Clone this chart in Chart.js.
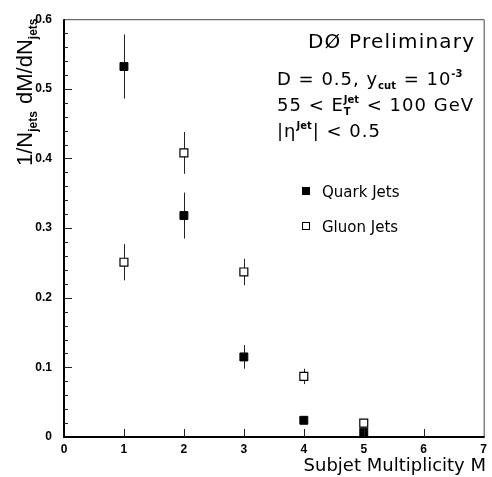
<!DOCTYPE html>
<html>
<head>
<meta charset="utf-8">
<script src="https://cdn.jsdelivr.net/npm/chart.js@4.4.1/dist/chart.umd.min.js"></script>
<style>
  html, body { margin: 0; padding: 0; background: #fff; }
</style>
</head>
<body>
<canvas id="myChart" width="492" height="477"></canvas>
<script>
var multiplicity = [1, 2, 3, 4, 5];
var quarkValues = [0.532, 0.318, 0.115, 0.024, 0.007];
var quarkErrors = [0.046, 0.033, 0.017, 0.005, 0.002];
var gluonValues = [0.251, 0.408, 0.237, 0.087, 0.020];
var gluonErrors = [0.026, 0.030, 0.019, 0.011, 0.003];
var seriesLabels = ["Quark Jets", "Gluon Jets"];

var fam = "'DejaVu Sans', sans-serif";

function points(vals) {
  return multiplicity.map(function (m, i) {
    return { x: m, y: vals[i] };
  });
}

// draws text pieces with sub/superscripts, returns end x
function drawRich(ctx, x, y, parts, size, family, spacing) {
  var held = 0;
  family = family || fam;
  parts.forEach(function (p) {
    var small = p.sub || p.sup;
    var s = small ? Math.round(size * 0.55) : size;
    ctx.letterSpacing = small ? "0px" : (spacing || 0) + "px";
    ctx.font = (small ? "bold " : "") + s + "px " + family;
    var dy = p.sub ? size * 0.22 : p.sup ? -size * 0.42 : 0;
    ctx.fillText(p.t, x, y + dy);
    var w = ctx.measureText(p.t).width;
    if (p.stack) {
      held = w;
    } else {
      x += Math.max(w, held) + (small ? 1 : 0);
      held = 0;
    }
  });
  ctx.letterSpacing = "0px";
  return x;
}

var errorBars = {
  id: "errorBars",
  beforeDatasetsDraw: function (chart) {
    var ctx = chart.ctx;
    var xs = chart.scales.x;
    var ys = chart.scales.y;
    ctx.save();
    ctx.strokeStyle = "#222";
    ctx.lineWidth = 1;
    chart.data.datasets.forEach(function (ds) {
      ds.data.forEach(function (p, i) {
        var px = Math.round(xs.getPixelForValue(p.x)) + 0.5;
        ctx.beginPath();
        ctx.moveTo(px, ys.getPixelForValue(p.y + ds.errors[i]));
        ctx.lineTo(px, ys.getPixelForValue(p.y - ds.errors[i]));
        ctx.stroke();
      });
    });
    ctx.restore();
  }
};

var frame = {
  id: "frame",
  afterDraw: function (chart) {
    var ctx = chart.ctx;
    var a = chart.chartArea;
    var xs = chart.scales.x;
    var ys = chart.scales.y;
    ctx.save();
    // thin top and right
    ctx.strokeStyle = "#444";
    ctx.lineWidth = 1;
    ctx.beginPath();
    ctx.moveTo(a.left, a.top + 0.5);
    ctx.lineTo(a.right + 0.5, a.top + 0.5);
    ctx.lineTo(a.right + 0.5, a.bottom);
    ctx.stroke();
    // heavy left and bottom
    ctx.strokeStyle = "#000";
    ctx.lineWidth = 2;
    ctx.beginPath();
    ctx.moveTo(a.left, a.top);
    ctx.lineTo(a.left, a.bottom);
    ctx.lineTo(a.right + 1, a.bottom);
    ctx.stroke();
    // y ticks, minor every 0.02
    ctx.lineWidth = 1;
    ctx.strokeStyle = "#222";
    for (var k = 1; k < 30; k++) {
      var py = Math.round(ys.getPixelForValue(k * 0.02)) + 0.5;
      var len = k % 5 === 0 ? 8 : 4;
      ctx.beginPath();
      ctx.moveTo(a.left, py);
      ctx.lineTo(a.left + len, py);
      ctx.stroke();
    }
    // x ticks
    for (var m = 1; m < 7; m++) {
      var px = Math.round(xs.getPixelForValue(m)) + 0.5;
      ctx.beginPath();
      ctx.moveTo(px, a.bottom);
      ctx.lineTo(px, a.bottom - 8);
      ctx.stroke();
    }
    ctx.restore();
  }
};

var texts = {
  id: "texts",
  afterDraw: function (chart) {
    var ctx = chart.ctx;
    ctx.save();
    ctx.fillStyle = "#000";
    ctx.textBaseline = "alphabetic";
    ctx.textAlign = "left";

    ctx.letterSpacing = "1.2px";
    ctx.font = "20px " + fam;
    ctx.fillText("D\u00d8 Preliminary", 308, 48);
    ctx.letterSpacing = "0px";

    drawRich(ctx, 277, 85, [
      { t: "D = 0.5, y" }, { t: "cut", sub: true }, { t: " = 10" }, { t: "-3", sup: true }
    ], 18, fam, 1);
    drawRich(ctx, 277, 111, [
      { t: "55 < E" }, { t: "T", sub: true, stack: true }, { t: "Jet", sup: true },
      { t: " < 100 GeV" }
    ], 18, fam, 1);
    drawRich(ctx, 277, 137, [
      { t: "|\u03b7" }, { t: "Jet", sup: true }, { t: "| < 0.5" }
    ], 18, fam, 1);

    // legend
    var ds = chart.data.datasets;
    var ly = [191, 226];
    ds.forEach(function (d, i) {
      ctx.fillStyle = d.backgroundColor;
      ctx.strokeStyle = "#000";
      ctx.lineWidth = 1;
      ctx.fillRect(302, ly[i] - 4, 8, 8);
      ctx.strokeRect(302.5, ly[i] - 3.5, 7, 7);
      ctx.fillStyle = "#000";
      ctx.font = "15px " + fam;
      ctx.fillText(d.label, 322, ly[i] + 6);
    });

    // x title
    ctx.font = "18px " + fam;
    ctx.textAlign = "right";
    ctx.fillText("Subjet Multiplicity M", 486, 471);

    // y title, rotated
    ctx.textAlign = "left";
    ctx.translate(32, 166);
    ctx.rotate(-Math.PI / 2);
    drawRich(ctx, 0, 0, [
      { t: "1/N" }, { t: "jets", sub: true }, { t: " dM/dN" }, { t: "jets", sub: true }
    ], 22, "'Liberation Sans', sans-serif", 0);
    ctx.restore();
  }
};

new Chart("myChart", {
  type: "scatter",
  data: {
    datasets: [
      {
        label: seriesLabels[0],
        data: points(quarkValues),
        errors: quarkErrors,
        pointStyle: "rect",
        pointRadius: 5.6,
        backgroundColor: "#000",
        borderColor: "#000",
        borderWidth: 1,
      },
      {
        label: seriesLabels[1],
        data: points(gluonValues),
        errors: gluonErrors,
        pointStyle: "rect",
        pointRadius: 5.6,
        backgroundColor: "#fff",
        borderColor: "#000",
        borderWidth: 1.2,
      },
    ],
  },
  options: {
    responsive: false,
    animation: false,
    devicePixelRatio: 1,
    layout: {
      padding: { top: 14, right: 6, left: 0, bottom: 0 },
    },
    plugins: {
      legend: { display: false },
      tooltip: { enabled: false },
    },
    scales: {
      x: {
        type: "linear",
        min: 0,
        max: 7,
        border: { display: false },
        grid: { display: false, drawTicks: false },
        ticks: {
          stepSize: 1,
          padding: 5,
          color: "#000",
          font: { family: "'Liberation Sans', sans-serif", size: 12, weight: "bold" },
        },
        afterFit: function (scale) {
          scale.height = 40;
        },
      },
      y: {
        min: 0,
        max: 0.6,
        border: { display: false },
        grid: { display: false, drawTicks: false },
        ticks: {
          stepSize: 0.1,
          padding: 12,
          color: "#000",
          font: { family: "'Liberation Sans', sans-serif", size: 12, weight: "bold" },
          callback: function (v) {
            return v === 0 ? "0" : v.toFixed(1);
          },
        },
        afterFit: function (scale) {
          scale.width = 64;
        },
      },
    },
  },
  plugins: [errorBars, frame, texts],
});
</script>
</body>
</html>
